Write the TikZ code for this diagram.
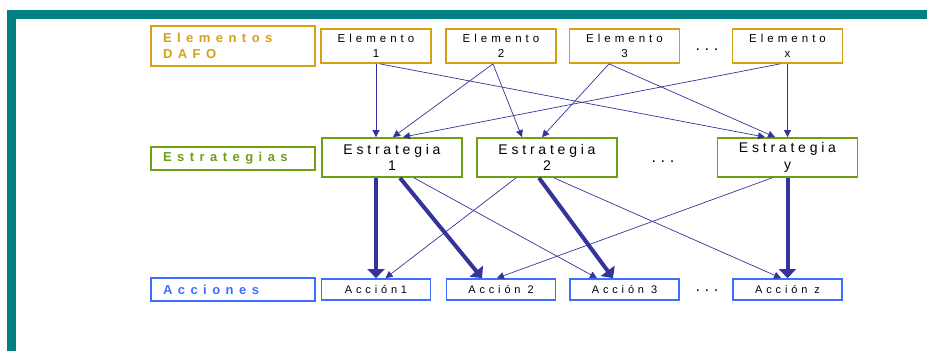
\documentclass[tikz,border=0pt]{standalone}
\usepackage{fontspec}
\setmainfont{Liberation Sans}
\newfontfamily\boxfont[LetterSpace=35]{Liberation Sans}
\newfontfamily\estrfont[LetterSpace=27]{Liberation Sans}
\newfontfamily\labelfont[LetterSpace=42]{Liberation Sans}
\usetikzlibrary{arrows.meta}

\definecolor{frameteal}{RGB}{0,128,128}
\definecolor{dafogold}{RGB}{214,160,20}
\definecolor{estrgreen}{RGB}{110,160,20}
\definecolor{accblue}{RGB}{60,110,255}
\definecolor{linkblue}{RGB}{51,51,153}

\tikzset{
  rowlabel/.style={line width=1.8pt, minimum width=164pt, inner xsep=12pt, inner ysep=0pt,
    text width=140pt, align=left, font=\labelfont\bfseries\fontsize{13}{16.5}\selectfont},
  elem/.style={draw=dafogold, line width=1.8pt, minimum width=110pt, minimum height=34pt,
    inner sep=0pt, align=center, font=\boxfont\fontsize{11.5}{14.5}\selectfont},
  estr/.style={draw=estrgreen, line width=1.8pt, minimum width=140pt, minimum height=39pt,
    inner sep=0pt, align=center, font=\estrfont\fontsize{14}{16.5}\selectfont},
  acc/.style={draw=accblue, line width=1.8pt, minimum width=109pt, minimum height=21pt,
    inner sep=0pt, font=\boxfont\fontsize{11}{13}\selectfont},
  more/.style={font=\bfseries\fontsize{11}{13}\selectfont},
  link/.style={draw=linkblue, line width=0.7pt, -{Triangle[length=7pt,width=7pt]}},
  mainlink/.style={draw=linkblue, line width=4pt, -{Triangle[length=9pt,width=17pt]}}
}

\begin{document}
\begin{tikzpicture}[x=1pt,y=-1pt]
\useasboundingbox (0,0) rectangle (927,351);
% marco
\fill[frameteal] (7,10) rectangle (927,19);
\fill[frameteal] (7,10) rectangle (16,351);

% etiquetas de fila
\node[rowlabel, draw=dafogold, text=dafogold, minimum height=40pt] (lbldafo) at (233,46) {Elementos\\DAFO};
\node[rowlabel, draw=estrgreen, text=estrgreen, minimum height=23pt] (lblestr) at (233,158.5) {Estrategias};
\node[rowlabel, draw=accblue, text=accblue, minimum height=23pt] (lblacc) at (233,289.5) {Acciones};

% elementos DAFO
\node[elem] (e1) at (376,46) {Elemento\\1};
\node[elem] (e2) at (501,46) {Elemento\\2};
\node[elem] (e3) at (624.5,46) {Elemento\\3};
\node[more] (edots) at (707,50) {.\hspace{6pt}.\hspace{6pt}.};
\node[elem] (ex) at (787.5,46) {Elemento\\x};

% estrategias
\node[estr] (s1) at (392,157.5) {Estrategia\\1};
\node[estr] (s2) at (547,157.5) {Estrategia\\2};
\node[more] (sdots) at (663,162) {.\hspace{6pt}.\hspace{6pt}.};
\node[estr] (sy) at (787.5,157.5) {Estrategia\\y};

% acciones
\node[acc] (a1) at (376,289.5) {Acción1};
\node[acc] (a2) at (501,289.5) {Acción 2};
\node[acc] (a3) at (624.5,289.5) {Acción 3};
\node[more] (adots) at (707,291) {.\hspace{6pt}.\hspace{6pt}.};
\node[acc] (az) at (787.5,289.5) {Acción z};

% elementos -> estrategias
\draw[link] (e1.south) -- ([xshift=-16pt]s1.north);
\draw[link] ([xshift=4pt]e1.south) -- ([xshift=-22.5pt]sy.north);
\draw[link] ([xshift=-8pt]e2.south) -- ([xshift=1pt]s1.north);
\draw[link] ([xshift=-8pt]e2.south) -- ([xshift=-25pt]s2.north);
\draw[link] ([xshift=-15.5pt]e3.south) -- ([xshift=-5pt]s2.north);
\draw[link] ([xshift=-15.5pt]e3.south) -- ([xshift=-12.5pt]sy.north);
\draw[link] ([xshift=-7.5pt]ex.south) -- ([xshift=11pt]s1.north);
\draw[link] (ex.south) -- (sy.north);

% estrategias -> acciones
\draw[mainlink] ([xshift=-16pt]s1.south) -- (a1.north);
\draw[mainlink] ([xshift=8pt]s1.south) -- ([xshift=-19pt]a2.north);
\draw[link] ([xshift=22pt]s1.south) -- ([xshift=-27.5pt]a3.north);
\draw[link] ([xshift=-31pt]s2.south) -- ([xshift=9.5pt]a1.north);
\draw[mainlink] ([xshift=-8pt]s2.south) -- ([xshift=-11.5pt]a3.north);
\draw[link] ([xshift=7pt]s2.south) -- ([xshift=-6.5pt]az.north);
\draw[link] ([xshift=-15.5pt]sy.south) -- ([xshift=-4pt]a2.north);
\draw[mainlink] (sy.south) -- (az.north);
\end{tikzpicture}
\end{document}
